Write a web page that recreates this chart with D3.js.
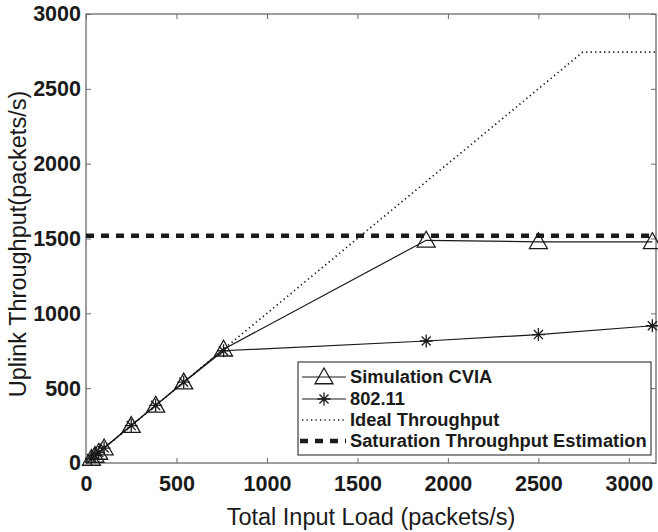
<!DOCTYPE html>
<html><head><meta charset="utf-8">
<script src="https://cdn.jsdelivr.net/npm/d3@7"></script>
<style>body{margin:0;background:#fff}svg{display:block}</style>
</head><body>
<svg id="c" width="658" height="532"></svg>
<script>
const loadX = [30, 50, 70, 100, 250, 385, 540, 760, 1880, 2500, 3130];
const cviaY = [30, 50, 70, 100, 250, 385, 540, 760, 1488, 1478, 1478];
const wifiY = [30, 50, 70, 100, 250, 385, 540, 750, 815, 858, 917];
const idealX = [0, 2745, 3150];
const idealY = [0, 2745, 2745];
const saturationY = 1518;
const xTicks = [0, 500, 1000, 1500, 2000, 2500, 3000];
const yTicks = [0, 500, 1000, 1500, 2000, 2500, 3000];
const legendLabels = ["Simulation CVIA", "802.11", "Ideal Throughput", "Saturation Throughput Estimation"];

const svg = d3.select("#c");
const L = 86, T = 14, R = 656, B = 463;
const x = d3.scaleLinear().domain([0, 3150]).range([L, R]);
const y = d3.scaleLinear().domain([0, 3000]).range([B, T]);
const axisCol = "#6b6b6b", ink = "#1a1a1a";
const font = "Liberation Sans, Arial, Helvetica, sans-serif";

// axes
const gx = svg.append("g").attr("transform", `translate(0,${B})`)
  .call(d3.axisBottom(x).tickValues(xTicks).tickFormat(d3.format("d")).tickSizeInner(-5).tickSizeOuter(0).tickPadding(13));
const gy = svg.append("g").attr("transform", `translate(${L},0)`)
  .call(d3.axisLeft(y).tickValues(yTicks).tickFormat(d3.format("d")).tickSizeInner(-5).tickSizeOuter(0).tickPadding(5));
const gxt = svg.append("g").attr("transform", `translate(0,${T})`)
  .call(d3.axisTop(x).tickValues(xTicks).tickFormat("").tickSizeInner(-5).tickSizeOuter(0));
const gyr = svg.append("g").attr("transform", `translate(${R},0)`)
  .call(d3.axisRight(y).tickValues(yTicks).tickFormat("").tickSizeInner(-5).tickSizeOuter(0));
[gx, gy, gxt, gyr].forEach(g => {
  g.select(".domain").remove();
  g.selectAll("line").attr("stroke", axisCol).attr("stroke-width", 1);
  g.selectAll("text").attr("font-family", font).attr("font-weight", "bold").attr("font-size", 21.5).attr("fill", ink);
});
gx.selectAll("text").attr("dy", "0.71em");
svg.append("rect").attr("x", L).attr("y", T).attr("width", R - L).attr("height", B - T)
  .attr("fill", "none").attr("stroke", axisCol).attr("stroke-width", 1.3);

// axis titles
svg.append("text").attr("x", 371).attr("y", 525).attr("text-anchor", "middle")
  .attr("font-family", font).attr("font-size", 23.5).attr("fill", ink).text("Total Input Load (packets/s)");
svg.append("text").attr("transform", `translate(26,244) rotate(-90)`).attr("text-anchor", "middle")
  .attr("font-family", font).attr("font-size", 23.5).attr("fill", ink).text("Uplink Throughput(packets/s)");

const plot = svg.append("g");
const line = d3.line().x(d => x(d[0])).y(d => y(d[1]));

// ideal
plot.append("path").datum(d3.zip(idealX, idealY)).attr("d", line).attr("fill", "none")
  .attr("stroke", ink).attr("stroke-width", 1.7).attr("stroke-dasharray", "1.3,3.2");
// saturation
plot.append("path").datum([[0, saturationY], [3150, saturationY]]).attr("d", line).attr("fill", "none")
  .attr("stroke", ink).attr("stroke-width", 4.5).attr("stroke-dasharray", "8,7");

const cvia = d3.zip(loadX, cviaY), wifi = d3.zip(loadX, wifiY);
plot.append("path").datum(cvia).attr("d", line).attr("fill", "none").attr("stroke", ink).attr("stroke-width", 1.2);
plot.append("path").datum(wifi).attr("d", line).attr("fill", "none").attr("stroke", ink).attr("stroke-width", 1.2);

function tri(g, cx, cy) {
  const s = 9;
  g.append("path").attr("d", `M${cx},${cy - s}L${cx + s},${cy + s * 0.75}L${cx - s},${cy + s * 0.75}Z`)
    .attr("fill", "none").attr("stroke", ink).attr("stroke-width", 1.3);
}
function star(g, cx, cy) {
  const s = 6.5, d = s * 0.7;
  g.append("path").attr("d", `M${cx},${cy - s}V${cy + s}M${cx - s},${cy}H${cx + s}M${cx - d},${cy - d}L${cx + d},${cy + d}M${cx - d},${cy + d}L${cx + d},${cy - d}`)
    .attr("stroke", ink).attr("stroke-width", 1.3).attr("fill", "none");
}
cvia.forEach(d => tri(plot, x(d[0]), y(d[1])));
wifi.forEach(d => star(plot, x(d[0]), y(d[1])));

// legend
const lg = svg.append("g");
lg.append("rect").attr("x", 298).attr("y", 362).attr("width", 353).attr("height", 93)
  .attr("fill", "#fff").attr("stroke", ink).attr("stroke-width", 1);
const rows = [377, 399, 420, 441];
rows.forEach((ry, i) => {
  const ln = lg.append("line").attr("x1", 302).attr("x2", 346).attr("y1", ry).attr("y2", ry).attr("stroke", ink);
  if (i < 2) ln.attr("stroke-width", 1.2);
  if (i === 2) ln.attr("stroke-width", 1.7).attr("stroke-dasharray", "1.3,3.2");
  if (i === 3) ln.attr("stroke-width", 4.5).attr("stroke-dasharray", "8,7").attr("x1", 300);
  if (i === 0) tri(lg, 324, ry);
  if (i === 1) star(lg, 324, ry);
  lg.append("text").attr("x", 350).attr("y", ry).attr("dy", "0.35em")
    .attr("font-family", font).attr("font-weight", "bold").attr("font-size", 18.3).attr("fill", ink).text(legendLabels[i]);
});
</script>
</body></html>
